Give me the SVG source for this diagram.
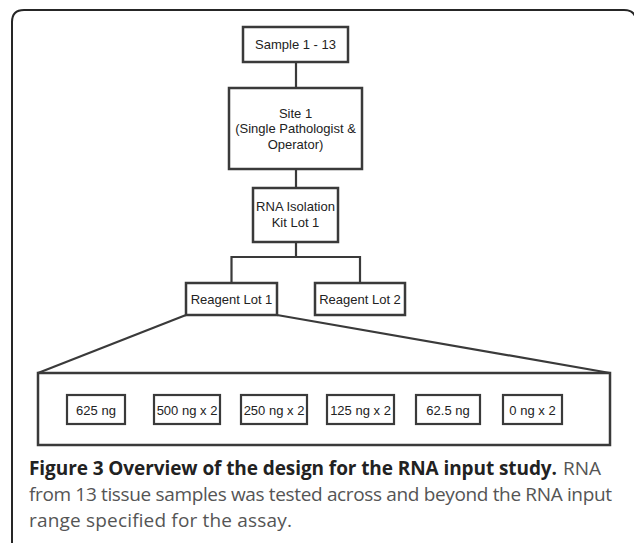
<svg xmlns="http://www.w3.org/2000/svg" width="634" height="543" viewBox="0 0 634 543">
<style>
.frame{fill:none;stroke:#262626;stroke-width:2}
.box{fill:#fff;stroke:#3a3a3a;stroke-width:2.5}
.sbox{fill:#fff;stroke:#3a3a3a;stroke-width:2.2}
.conn{fill:none;stroke:#3a3a3a;stroke-width:2.2}
.t{font-family:"Liberation Sans",Arial,sans-serif;font-size:13px;fill:#222;text-anchor:middle}
.cap{font-family:"Open Sans","Noto Sans",sans-serif;font-size:19px;fill:#555}
.capb{font-weight:bold;fill:#222}
</style>
<rect x="0" y="0" width="634" height="543" fill="#fff"/>
<path class="frame" d="M12,543 V22 Q12,10 24,10 H624 Q636,10 636,22 V543"/>
<g id="connectors">
<line class="conn" x1="296" y1="62" x2="296" y2="88"/>
<line class="conn" x1="296" y1="169" x2="296" y2="188"/>
<polyline class="conn" points="231.5,283 231.5,257 360,257 360,283"/>
<line class="conn" x1="296" y1="242" x2="296" y2="257"/>
<line class="conn" x1="186" y1="315" x2="38" y2="373"/>
<line class="conn" x1="277" y1="315" x2="610" y2="373"/>
</g>
<g id="sample">
<rect class="box" x="243" y="27" width="105" height="35"/>
<text class="t" x="295.5" y="49">Sample 1 - 13</text>
</g>
<g id="site">
<rect class="box" x="229" y="88" width="133" height="81"/>
<text class="t" x="295.5" y="117.5">Site 1</text>
<text class="t" x="295.5" y="133">(Single Pathologist &amp;</text>
<text class="t" x="295.5" y="148.5">Operator)</text>
</g>
<g id="rna">
<rect class="box" x="253" y="188" width="85" height="54"/>
<text class="t" x="295.5" y="211">RNA Isolation</text>
<text class="t" x="295.5" y="227">Kit Lot 1</text>
</g>
<g id="reagent1">
<rect class="box" x="186" y="283" width="91" height="32"/>
<text class="t" x="231.5" y="304">Reagent Lot 1</text>
</g>
<g id="reagent2">
<rect class="box" x="315" y="283" width="90" height="32"/>
<text class="t" x="360" y="304">Reagent Lot 2</text>
</g>
<g id="inputs">
<rect class="box" x="38" y="373" width="572" height="72"/>
</g>
<g id="n625">
<rect class="sbox" x="67" y="395" width="58" height="29"/>
<text class="t" x="96" y="414.5">625 ng</text>
</g>
<g id="n500">
<rect class="sbox" x="154" y="395" width="66" height="29"/>
<text class="t" x="187" y="414.5">500 ng x 2</text>
</g>
<g id="n250">
<rect class="sbox" x="241" y="395" width="66" height="29"/>
<text class="t" x="274" y="414.5">250 ng x 2</text>
</g>
<g id="n125">
<rect class="sbox" x="327" y="395" width="67" height="29"/>
<text class="t" x="360.5" y="414.5">125 ng x 2</text>
</g>
<g id="n62">
<rect class="sbox" x="416" y="395" width="64" height="29"/>
<text class="t" x="448" y="414.5">62.5 ng</text>
</g>
<g id="n0">
<rect class="sbox" x="503" y="395" width="59" height="29"/>
<text class="t" x="532.5" y="414.5">0 ng x 2</text>
</g>
<g id="caption">
<text class="cap capb" x="29" y="475" textLength="528" lengthAdjust="spacing">Figure 3 Overview of the design for the RNA input study.</text>
<text class="cap" x="563" y="475">RNA</text>
<text class="cap" x="29" y="501" textLength="583" lengthAdjust="spacing">from 13 tissue samples was tested across and beyond the RNA input</text>
<text class="cap" x="29" y="527" textLength="263" lengthAdjust="spacing">range specified for the assay.</text>
</g>
</svg>
